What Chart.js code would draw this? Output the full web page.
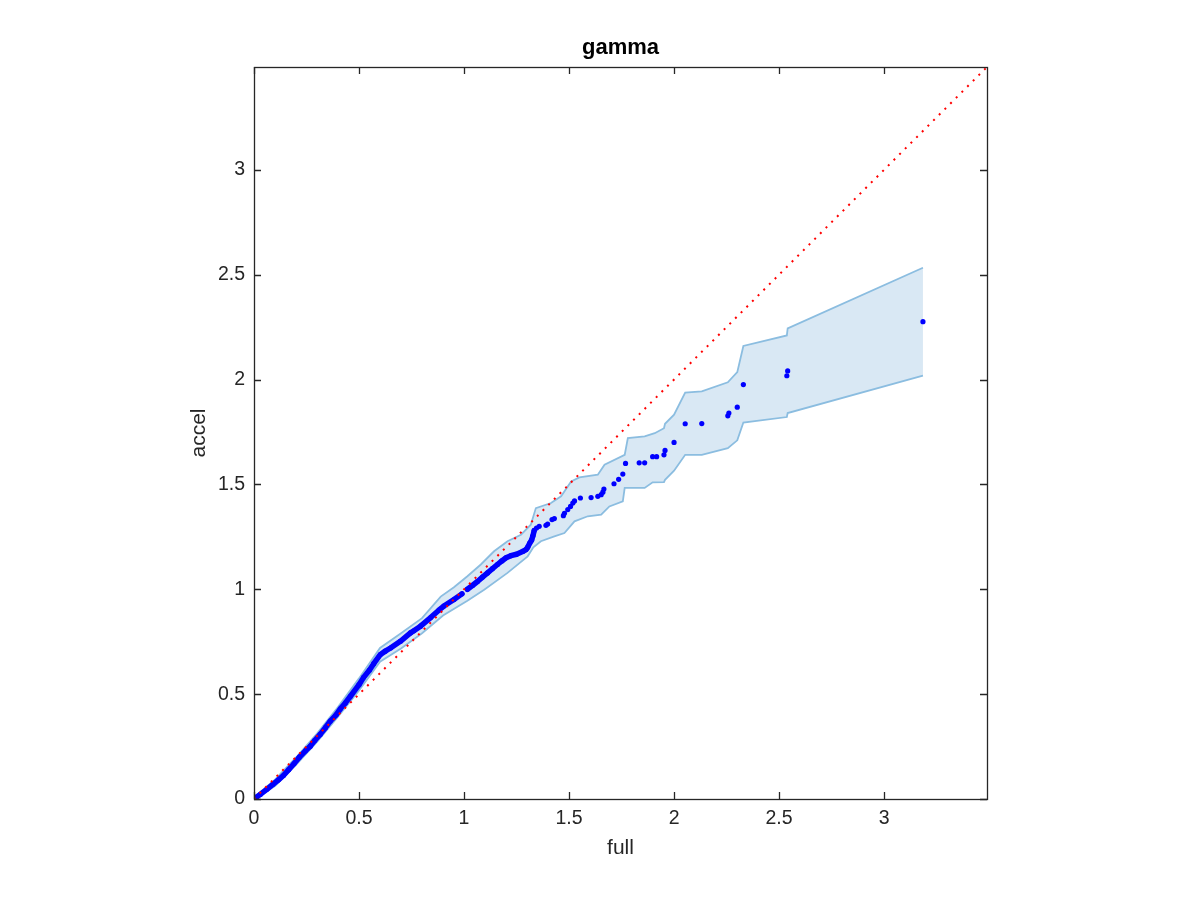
<!DOCTYPE html>
<html>
<head>
<meta charset="utf-8">
<script src="https://cdn.jsdelivr.net/npm/chart.js@4.4.1/dist/chart.umd.min.js"></script>
<style>
  html, body { margin: 0; padding: 0; background: #ffffff; }
  #wrap { width: 1200px; height: 900px; }
</style>
</head>
<body>
<div id="wrap"><canvas id="c" width="1200" height="900"></canvas></div>
<script>
// ---------------- DATA ----------------
const chartTitle = 'gamma';
const xLabel = 'full';
const yLabel = 'accel';
const axisMin = 0;
const axisMax = 3.49;
const tickStep = 0.5;

// dense quantile points, before the small gap at ~1.0
const fullA  = [0, 0.03, 0.061, 0.09, 0.115, 0.14, 0.165, 0.19, 0.215, 0.245, 0.268, 0.29, 0.315, 0.34, 0.363, 0.39, 0.411, 0.435, 0.459, 0.5, 0.522, 0.55, 0.57, 0.602, 0.625, 0.65, 0.697, 0.745, 0.761, 0.793, 0.841, 0.88, 0.904, 0.952, 0.99];
const accelA = [0, 0.022, 0.046, 0.07, 0.09, 0.112, 0.14, 0.168, 0.198, 0.23, 0.252, 0.28, 0.308, 0.34, 0.371, 0.40, 0.43, 0.458, 0.49, 0.545, 0.58, 0.615, 0.645, 0.689, 0.705, 0.72, 0.752, 0.792, 0.802, 0.824, 0.865, 0.9, 0.92, 0.951, 0.978];

// dense quantile points, after the gap
const fullB  = [1.016, 1.04, 1.064, 1.088, 1.112, 1.135, 1.159, 1.18, 1.2, 1.223, 1.25, 1.279, 1.295, 1.303, 1.313, 1.322, 1.328, 1.334];
const accelB = [1.0, 1.018, 1.037, 1.058, 1.078, 1.098, 1.118, 1.135, 1.15, 1.16, 1.167, 1.18, 1.189, 1.2, 1.22, 1.235, 1.255, 1.28];

// sparse upper-tail quantile points
const fullC  = [1.345, 1.358, 1.39, 1.398, 1.419, 1.43, 1.473, 1.478, 1.494, 1.507, 1.518, 1.526, 1.554, 1.605, 1.637, 1.653, 1.661, 1.666, 1.714, 1.736, 1.756, 1.769, 1.834, 1.86, 1.898, 1.917, 1.952, 1.957, 2.0, 2.053, 2.132, 2.256, 2.261, 2.301, 2.33, 2.537, 2.541, 3.185];
const accelC = [1.292, 1.3, 1.305, 1.311, 1.332, 1.337, 1.351, 1.362, 1.38, 1.395, 1.411, 1.421, 1.435, 1.437, 1.443, 1.451, 1.463, 1.478, 1.503, 1.524, 1.549, 1.6, 1.603, 1.603, 1.632, 1.632, 1.641, 1.662, 1.7, 1.789, 1.79, 1.827, 1.84, 1.868, 1.976, 2.018, 2.041, 2.276];

// confidence band, upper edge
const bandUpperFull = [0, 0.1, 0.2, 0.3, 0.4, 0.5, 0.6, 0.7, 0.8, 0.889, 0.952, 1.016, 1.08, 1.143, 1.207, 1.271, 1.318, 1.342, 1.414, 1.462, 1.51, 1.549, 1.637, 1.669, 1.765, 1.78, 1.86, 1.908, 1.952, 1.957, 2.0, 2.053, 2.132, 2.256, 2.301, 2.33, 2.537, 2.541, 3.185];
const bandUpper     = [0.008, 0.092, 0.198, 0.312, 0.438, 0.575, 0.72, 0.79, 0.862, 0.965, 1.01, 1.062, 1.118, 1.181, 1.229, 1.26, 1.308, 1.387, 1.411, 1.443, 1.514, 1.533, 1.546, 1.594, 1.641, 1.721, 1.729, 1.744, 1.768, 1.789, 1.832, 1.938, 1.943, 1.987, 2.035, 2.16, 2.21, 2.244, 2.533];

// confidence band, lower edge
const bandLowerFull = [0, 0.1, 0.2, 0.3, 0.4, 0.5, 0.6, 0.7, 0.8, 0.9, 1.016, 1.096, 1.207, 1.303, 1.33, 1.366, 1.43, 1.478, 1.526, 1.589, 1.653, 1.692, 1.756, 1.765, 1.86, 1.898, 1.952, 1.957, 2.0, 2.053, 2.132, 2.256, 2.301, 2.33, 2.537, 2.541, 3.185];
const bandLower     = [0, 0.062, 0.163, 0.272, 0.392, 0.518, 0.655, 0.718, 0.79, 0.875, 0.945, 0.998, 1.078, 1.157, 1.2, 1.229, 1.252, 1.268, 1.324, 1.348, 1.356, 1.395, 1.419, 1.483, 1.483, 1.51, 1.511, 1.522, 1.565, 1.641, 1.641, 1.673, 1.71, 1.795, 1.821, 1.84, 2.018];

// y = x reference line
const refFull  = [0, 3.49];
const refAccel = [0, 3.49];

// ---------------- CHART ----------------
const FONT = "'Liberation Sans', Arial, Helvetica, sans-serif";
const AXIS_COLOR = '#262626';
const pts = (xs, ys) => xs.map((x, i) => ({ x: x, y: ys[i] }));
const bandPolygon = pts(bandUpperFull, bandUpper).concat(pts(bandLowerFull, bandLower).reverse());

const keepStepTicks = (scale) => {
  scale.ticks = scale.ticks.filter(t => Math.abs(t.value / tickStep - Math.round(t.value / tickStep)) < 1e-6);
};
const tickText = (v) => String(Number(Number(v).toFixed(2)));

const boxAndTicks = {
  id: 'boxAndTicks',
  afterDraw(chart) {
    const { ctx, chartArea: a, scales } = chart;
    const len = 7;
    ctx.save();
    ctx.strokeStyle = AXIS_COLOR;
    ctx.lineWidth = 1.3;
    ctx.beginPath();
    scales.x.ticks.forEach(t => {
      const px = Math.round(scales.x.getPixelForValue(t.value)) + 0.5;
      ctx.moveTo(px, a.bottom); ctx.lineTo(px, a.bottom - len);
      ctx.moveTo(px, a.top); ctx.lineTo(px, a.top + len);
    });
    scales.y.ticks.forEach(t => {
      const py = Math.round(scales.y.getPixelForValue(t.value)) + 0.5;
      ctx.moveTo(a.left, py); ctx.lineTo(a.left + len, py);
      ctx.moveTo(a.right, py); ctx.lineTo(a.right - len, py);
    });
    ctx.stroke();
    ctx.strokeRect(Math.round(a.left) + 0.5, Math.round(a.top) + 0.5, Math.round(a.right - a.left), Math.round(a.bottom - a.top));
    ctx.restore();
  }
};

new Chart(document.getElementById('c'), {
  type: 'scatter',
  data: {
    datasets: [
      { // band fill
        data: bandPolygon, showLine: true, fill: 'shape',
        backgroundColor: '#d9e8f4', borderColor: 'rgba(0,0,0,0)', borderWidth: 0,
        pointRadius: 0, order: 6
      },
      { // band upper edge
        data: pts(bandUpperFull, bandUpper), showLine: true, fill: false,
        borderColor: '#8bbde0', borderWidth: 1.8, pointRadius: 0, order: 5
      },
      { // band lower edge
        data: pts(bandLowerFull, bandLower), showLine: true, fill: false,
        borderColor: '#8bbde0', borderWidth: 1.8, pointRadius: 0, order: 4
      },
      { // dense quantiles A
        data: pts(fullA, accelA), showLine: true, fill: false,
        borderColor: '#0000ff', borderWidth: 5.5, borderCapStyle: 'round', borderJoinStyle: 'round',
        pointRadius: 2.6, pointBackgroundColor: '#0000ff', pointBorderWidth: 0, order: 3
      },
      { // dense quantiles B
        data: pts(fullB, accelB), showLine: true, fill: false,
        borderColor: '#0000ff', borderWidth: 5.5, borderCapStyle: 'round', borderJoinStyle: 'round',
        pointRadius: 2.6, pointBackgroundColor: '#0000ff', pointBorderWidth: 0, order: 3
      },
      { // sparse quantiles
        data: pts(fullC, accelC), showLine: false,
        pointRadius: 2.6, pointBackgroundColor: '#0000ff', pointBorderWidth: 0, order: 2
      },
      { // reference line y = x
        data: pts(refFull, refAccel), showLine: true, fill: false,
        borderColor: '#ff0000', borderWidth: 2, borderDash: [2, 6],
        pointRadius: 0, order: 1
      }
    ]
  },
  options: {
    responsive: false,
    animation: false,
    devicePixelRatio: 1,
    layout: { padding: { left: 0, right: 213, top: 35, bottom: 0 } },
    plugins: {
      legend: { display: false },
      tooltip: { enabled: false },
      title: {
        display: true, text: chartTitle, fullSize: false, color: '#000000',
        font: { family: FONT, size: 22, weight: 'bold' },
        padding: { top: 0, bottom: 5.6 }
      }
    },
    scales: {
      x: {
        type: 'linear', position: 'bottom', min: axisMin, max: axisMax,
        afterBuildTicks: keepStepTicks,
        afterFit: (s) => { s.height = 101; },
        grid: { display: false, drawTicks: false },
        border: { display: false },
        ticks: { stepSize: tickStep, color: AXIS_COLOR, padding: 8, maxRotation: 0,
                 font: { family: FONT, size: 19.5 }, callback: tickText },
        title: { display: true, text: xLabel, color: AXIS_COLOR,
                 font: { family: FONT, size: 21 }, padding: { top: 0, bottom: 39.4 } }
      },
      y: {
        type: 'linear', position: 'left', min: axisMin, max: axisMax,
        afterBuildTicks: keepStepTicks,
        afterFit: (s) => { s.width = 254; },
        grid: { display: false, drawTicks: false },
        border: { display: false },
        ticks: { stepSize: tickStep, color: AXIS_COLOR, padding: 9,
                 font: { family: FONT, size: 19.5 }, callback: tickText },
        title: { display: true, text: yLabel, color: AXIS_COLOR,
                 font: { family: FONT, size: 21 }, padding: { top: 186.4, bottom: 0 } }
      }
    }
  },
  plugins: [boxAndTicks]
});
</script>
</body>
</html>
